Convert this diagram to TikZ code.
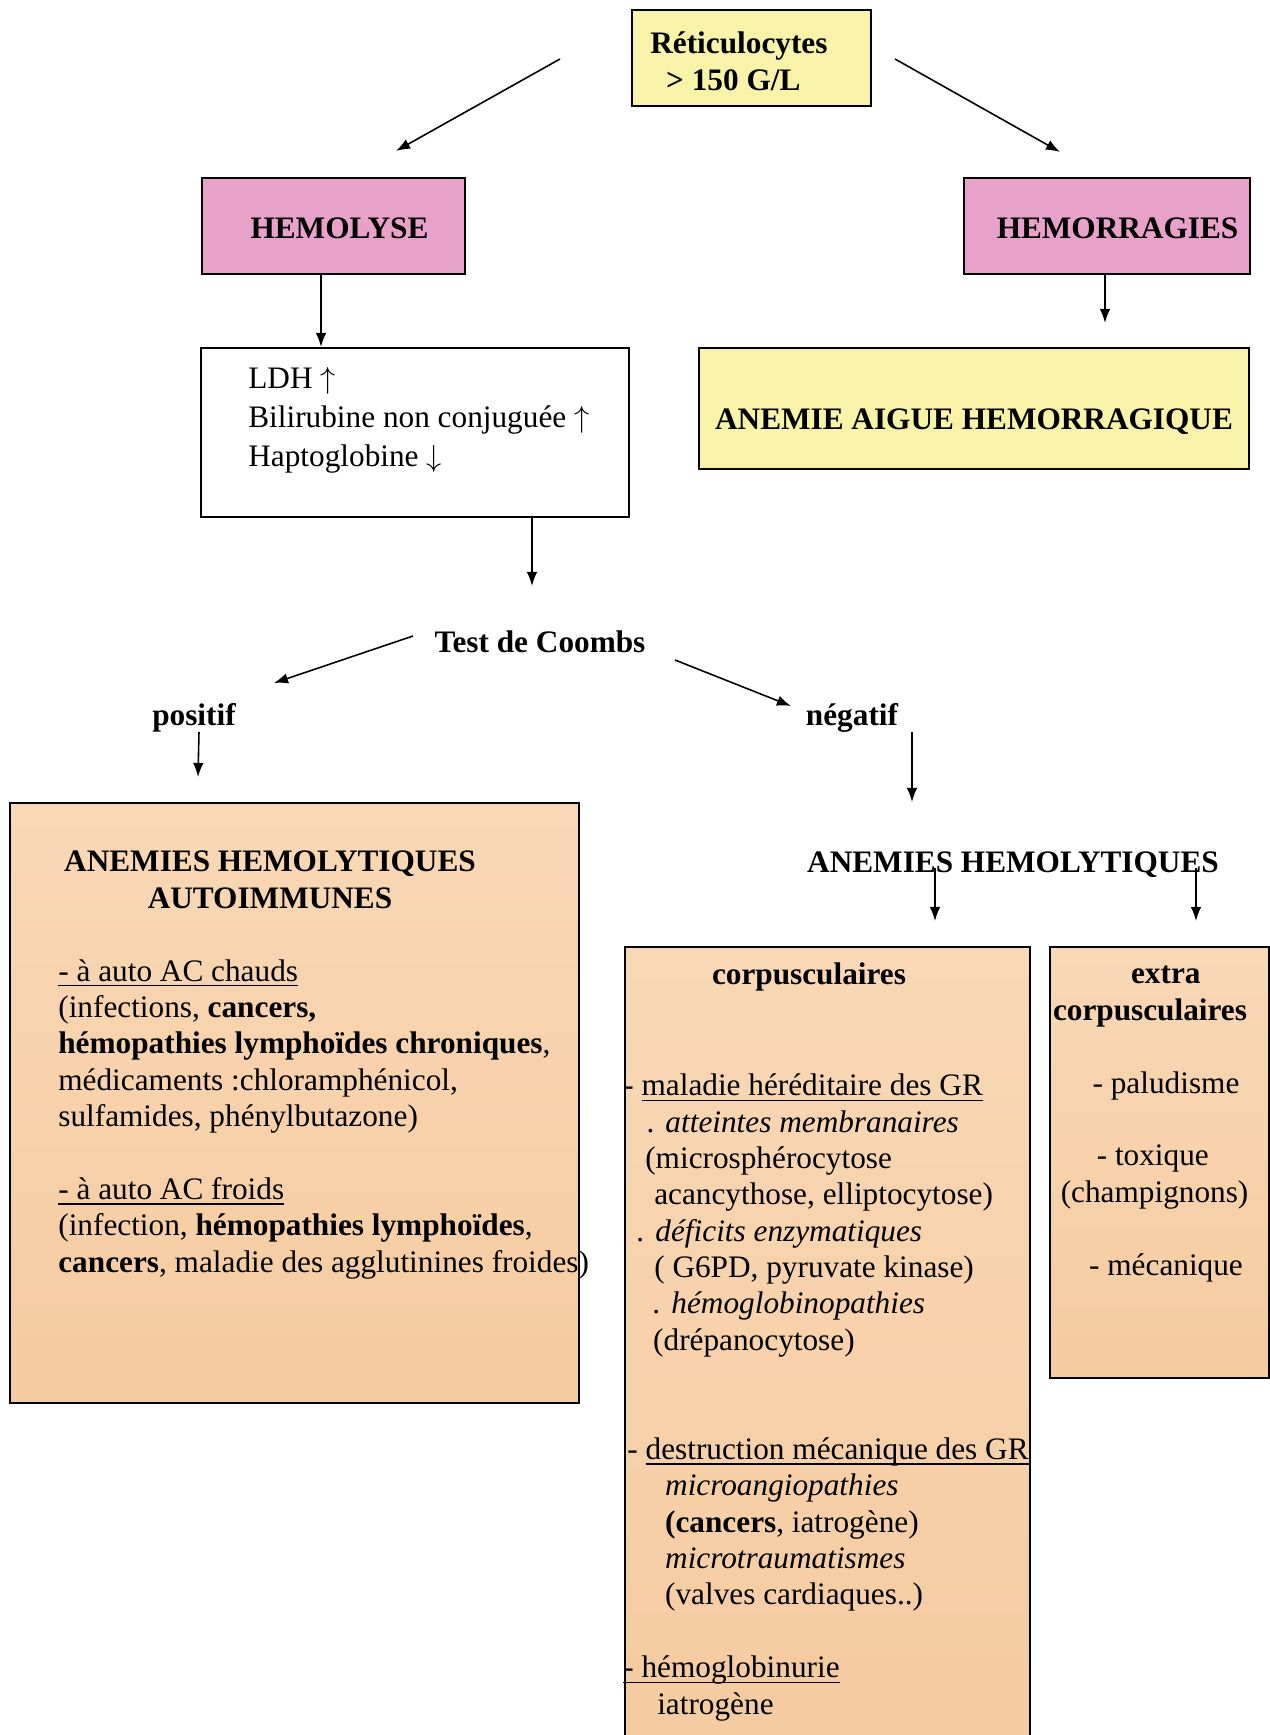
\documentclass[tikz,border=0pt]{standalone}
\usepackage{fontspec}
\setmainfont{Liberation Serif}
\usetikzlibrary{arrows.meta, calc}
\definecolor{jaune}{HTML}{F8F3A8}
\definecolor{rose}{HTML}{E8A2C9}
\definecolor{pechehaut}{HTML}{F8D8B6}
\definecolor{pechebas}{HTML}{F5CBA0}
\newcommand\souligne[1]{\setbox0=\hbox{#1}\rlap{\rule[-3pt]{\wd0}{0.8pt}}\box0}

\begin{document}
\begin{tikzpicture}[x=0.02cm, y=-0.02cm,
		execute at begin picture={\fontsize{17.8}{20.7}\selectfont},
		boite/.style={draw, line width=1.2pt, inner sep=0pt},
		boitejaune/.style={boite, fill=jaune},
		boiterose/.style={boite, fill=rose, font=\bfseries, text height=14pt},
		boitepeche/.style={boite, top color=pechehaut, bottom color=pechebas},
		texte/.style={inner sep=0pt},
		fleche/.style={-{Latex[length=8pt, width=6pt]}, line width=0.9pt}]

		\path[use as bounding box, fill=white] (0,0) rectangle (1270,1735);

		\node [boitejaune, minimum width=4.78cm, minimum height=1.92cm] (reti) at (751.5,58) {};
		\node [texte, anchor=base west, align=left, font=\bfseries] (retitxt) at (650,90) {Réticulocytes\\\hspace*{9pt}> 150 G/L};
		\node [boiterose, minimum width=5.26cm, minimum height=1.92cm] (hemolyse) at (333.5,226) {\hspace*{6.8pt}HEMOLYSE};
		\node [boiterose, minimum width=5.72cm, minimum height=1.92cm] (hemorr) at (1107,226) {\hspace*{12pt}HEMORRAGIES};
		\node [boite, fill=white, minimum width=8.56cm, minimum height=3.38cm] (bio) at (415,432.5) {};
		\node [texte, anchor=base west, align=left, font=\fontsize{17.8}{22}\selectfont] (biotxt) at (248,466) {LDH $\uparrow$\\Bilirubine non conjuguée $\uparrow$\\Haptoglobine $\downarrow$};
		\node [boitejaune, minimum width=11cm, minimum height=2.42cm, font=\bfseries, text height=26.7pt] (aigue) at (974,408.5) {ANEMIE AIGUE HEMORRAGIQUE};

		\node [texte, anchor=base, font=\bfseries] (coombs) at (540,652) {Test de Coombs};
		\node [texte, anchor=base, font=\bfseries] (positif) at (194,725) {positif};
		\node [texte, anchor=base, font=\bfseries] (negatif) at (852,725) {négatif};

		\node [boitepeche, minimum width=11.38cm, minimum height=12cm] (aiha) at (294.5,1103) {};
		\node [texte, anchor=base, align=center, font=\bfseries] (aihatitre) at (270,908) {ANEMIES HEMOLYTIQUES\\AUTOIMMUNES};
		\node [texte, anchor=base west, align=left] (aihatxt) at (58,1272) {\souligne{- à auto AC chauds}\\
			(infections, \textbf{cancers,}\\
			\textbf{hémopathies lymphoïdes chroniques},\\
			médicaments :chloramphénicol,\\
			sulfamides, phénylbutazone)\\[20.7pt]
			\souligne{- à auto AC froids}\\
			(infection, \textbf{hémopathies lymphoïdes},\\
			\textbf{cancers}, maladie des agglutinines froides)};

		\node [texte, anchor=base, font=\bfseries] (hemneg) at (1013,872) {ANEMIES HEMOLYTIQUES};
		\node [boitepeche, minimum width=8.1cm, minimum height=15.96cm] (corpus) at (827.5,1346) {};
		\node [texte, anchor=base, font=\bfseries] (corpustitre) at (809,984) {corpusculaires};
		\node [texte, anchor=base west, align=left] (corpustxt) at (623,1714) {- \souligne{maladie héréditaire des GR}\\
			\hspace*{13.6pt}\textit{. atteintes membranaires}\\
			\hspace*{12.5pt}(microsphérocytose\\
			\hspace*{17.6pt}acancythose, elliptocytose)\\
			\hspace*{7.9pt}\textit{. déficits enzymatiques}\\
			\hspace*{17.6pt}( G6PD, pyruvate kinase)\\
			\hspace*{17pt}\textit{. hémoglobinopathies}\\
			\hspace*{17pt}(drépanocytose)\\[41.4pt]
			\hspace*{2.3pt}- \souligne{destruction mécanique des GR}\\
			\hspace*{23.8pt}\textit{microangiopathies}\\
			\hspace*{23.8pt}\textbf{(cancers}, iatrogène)\\
			\hspace*{23.8pt}\textit{microtraumatismes}\\
			\hspace*{23.8pt}(valves cardiaques..)\\[20.7pt]
			\souligne{- hémoglobinurie}\\
			\hspace*{19.3pt}iatrogène};
		\node [boitepeche, minimum width=4.38cm, minimum height=8.62cm] (extra) at (1159.5,1162.5) {};
		\node [texte, anchor=base, align=center, font=\bfseries] (extratitre) at (1150,1020) {\hspace*{18pt}extra\\corpusculaires};
		\node [texte, anchor=base, align=center] (extratxt) at (1166,1275) {- paludisme\\[20.7pt]- toxique\hspace*{15pt}\mbox{}\\(champignons)\hspace*{13pt}\mbox{}\\[20.7pt]- mécanique};

		\draw [fleche] ($(reti.west)+(-71,1)$) -- ($(hemolyse.north)+(62.5,-26)$);
		\draw [fleche] ($(reti.east)+(23,1)$) -- ($(hemorr.north)+(-47,-25)$);
		\draw [fleche] ($(hemolyse.south)+(-12.5,0)$) -- ($(bio.north)+(-94,0)$);
		\draw [fleche] ($(hemorr.south)+(-2,0)$) -- ($(aigue.north)+(131,-24)$);
		\draw [fleche] ($(bio.south)+(117,0)$) -- ($(coombs.base)+(-8,-66)$);
		\draw [fleche] ($(coombs.base)+(-127,-16)$) -- ($(positif.base)+(80,-42)$);
		\draw [fleche] ($(coombs.base)+(135,8)$) -- ($(negatif.base)+(-61,-19)$);
		\draw [fleche] ($(positif.base)+(5,7)$) -- ($(aiha.north west)+(189,-25)$);
		\draw [fleche] ($(negatif.base)+(60,7)$) -- ($(hemneg.base)+(-101,-70)$);
		\draw [fleche] ($(hemneg.base)+(-78,-4)$) -- ($(corpus.north)+(107.5,-25)$);
		\draw [fleche] ($(hemneg.base)+(183,-4)$) -- ($(extra.north)+(36.5,-25)$);

	\end{tikzpicture}
\end{document}
